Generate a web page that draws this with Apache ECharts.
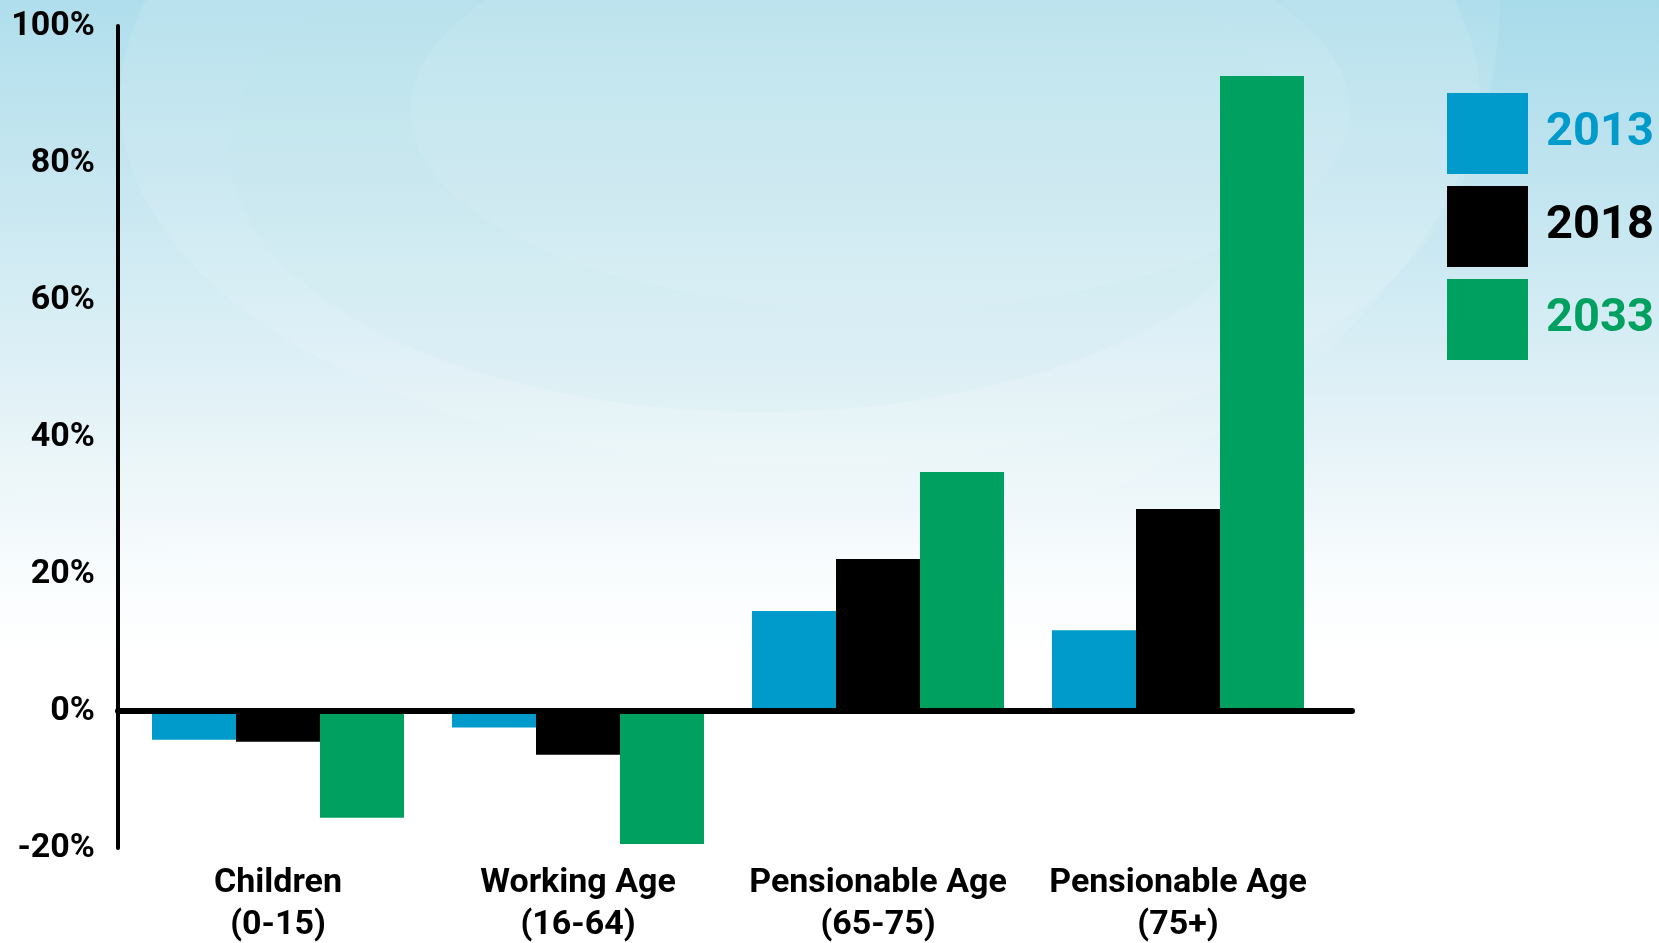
<!DOCTYPE html>
<html>
<head>
<meta charset="utf-8">
<title>Population change by age group</title>
<script src="https://cdn.jsdelivr.net/npm/echarts@6/dist/echarts.min.js"></script>
<style>
  html, body { margin: 0; padding: 0; }
  #chart { width: 1659px; height: 943px; }
</style>
</head>
<body>
<div id="chart"></div>
<script>
// data (percent change)
const categories = ['Children\n(0-15)', 'Working Age\n(16-64)', 'Pensionable Age\n(65-75)', 'Pensionable Age\n(75+)'];
const years = ['2013', '2018', '2033'];
const values2013 = [-4.2, -2.4, 14.6, 11.8];
const values2018 = [-4.5, -6.4, 22.2, 29.5];
const values2033 = [-15.6, -19.4, 34.9, 92.7];
const yTicks = [-20, 0, 20, 40, 60, 80, 100];

const colors = ['#009BCB', '#000000', '#00A060'];
const font = "Roboto, 'Noto Sans', sans-serif";

const chart = echarts.init(document.getElementById('chart'));

const option = {
  backgroundColor: {
    type: 'linear', x: 0, y: 0, x2: 0, y2: 1,
    colorStops: [
      { offset: 0, color: '#A8DBEA' },
      { offset: 0.3, color: '#CFEAF3' },
      { offset: 0.5, color: '#EAF5F9' },
      { offset: 0.62, color: '#FAFDFE' },
      { offset: 0.7, color: '#FFFFFF' },
      { offset: 1, color: '#FFFFFF' }
    ]
  },
  animation: false,
  // faint swirls of the backdrop
  graphic: [
    { type: 'ellipse', z: -10, silent: true, shape: { cx: 560, cy: 0, rx: 940, ry: 604 }, style: { fill: 'rgba(255,255,255,0.10)' } },
    { type: 'ellipse', z: -10, silent: true, shape: { cx: 800, cy: 100, rx: 680, ry: 365 }, style: { fill: 'rgba(255,255,255,0.10)' } },
    { type: 'ellipse', z: -10, silent: true, shape: { cx: 760, cy: 150, rx: 530, ry: 262 }, style: { fill: 'rgba(190,228,232,0.12)' } },
    { type: 'ellipse', z: -10, silent: true, shape: { cx: 880, cy: 110, rx: 470, ry: 200 }, style: { fill: 'rgba(255,255,255,0.08)' } }
  ],
  legend: {
    orient: 'vertical',
    left: 1442,
    top: 88,
    icon: 'rect',
    itemWidth: 81,
    itemHeight: 81,
    itemGap: 12,
    selectedMode: false,
    textStyle: {
      fontFamily: font,
      fontWeight: 'bold',
      fontSize: 47,
      padding: [0, 0, 0, 13]
    },
    data: years.map((y, i) => ({ name: y, textStyle: { color: colors[i] } }))
  },
  grid: [
    { left: 128, right: 331, top: 26, bottom: 95, outerBoundsMode: 'none' },
    // second grid only draws the long zero line
    { left: 118, right: 307, top: 26, bottom: 95, outerBoundsMode: 'none' }
  ],
  xAxis: [
    {
      type: 'category',
      gridIndex: 0,
      data: categories,
      axisLine: { show: false, onZero: false },
      axisTick: { show: false },
      axisLabel: {
        interval: 0,
        margin: 14,
        fontFamily: font,
        fontWeight: 'bold',
        fontSize: 34,
        lineHeight: 42,
        color: '#000'
      }
    },
    {
      type: 'category',
      gridIndex: 1,
      data: [''],
      z: 10,
      axisLine: { show: true, onZero: true, lineStyle: { color: '#000', width: 6 } },
      axisTick: { show: false },
      axisLabel: { show: false }
    }
  ],
  yAxis: [
    {
      type: 'value',
      gridIndex: 0,
      min: yTicks[0],
      max: yTicks[yTicks.length - 1],
      interval: 20,
      offset: 10,
      splitLine: { show: false },
      axisTick: { show: false },
      axisLine: { show: true, lineStyle: { color: '#000', width: 4 } },
      axisLabel: {
        margin: 23,
        formatter: '{value}%',
        fontFamily: font,
        fontWeight: 'bold',
        fontSize: 34,
        color: '#000'
      }
    },
    {
      type: 'value',
      gridIndex: 1,
      min: yTicks[0],
      max: yTicks[yTicks.length - 1],
      interval: 20,
      show: false
    }
  ],
  series: [values2013, values2018, values2033].map((vals, i) => ({
    name: years[i],
    type: 'bar',
    xAxisIndex: 0,
    yAxisIndex: 0,
    barWidth: 84,
    barGap: '0%',
    itemStyle: { color: colors[i] },
    data: vals
  }))
};

chart.setOption(option);
</script>
</body>
</html>
